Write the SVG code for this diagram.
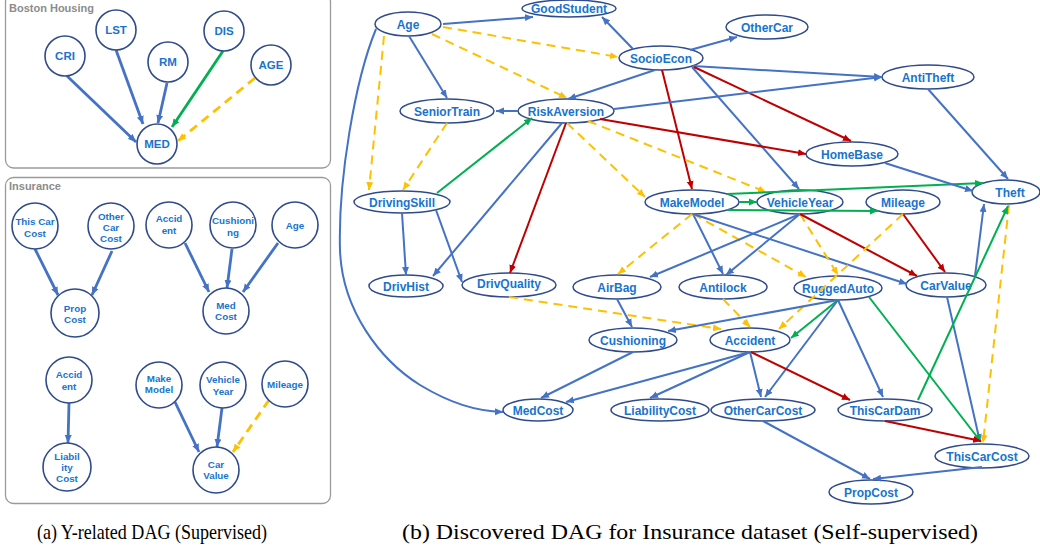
<svg xmlns="http://www.w3.org/2000/svg" width="1040" height="550" viewBox="0 0 1040 550">
<style>
.box{fill:#fff;stroke:#9a9a9a;stroke-width:1.3}
.ttl{font-family:"Liberation Sans",Arial,sans-serif;font-weight:bold;font-size:11px;fill:#8c8c8c}
.c{fill:#fff;stroke:#2F4B8C;stroke-width:1.6}
.n{fill:#fff;stroke:#2F4B8C;stroke-width:1.5}
.t{font-family:"Liberation Sans",Arial,sans-serif;font-weight:bold;font-size:12px;fill:#1874CD;text-anchor:middle}
.ts{font-family:"Liberation Sans",Arial,sans-serif;font-weight:bold;font-size:9.8px;fill:#1874CD;text-anchor:middle}
.tb{font-family:"Liberation Sans",Arial,sans-serif;font-weight:bold;font-size:11.5px;fill:#1874CD;text-anchor:middle}
.e{fill:none;stroke-width:2}
.L{stroke-width:2.8}
.b{stroke:#4472C4;marker-end:url(#ab)}
.g{stroke:#00B050;marker-end:url(#ag)}
.o{stroke:#FFC000;stroke-dasharray:9 6;marker-end:url(#ao)}
.r{stroke:#C00000;marker-end:url(#ar)}
.cap{font-family:"Liberation Serif","Times New Roman",serif;font-size:21px;fill:#000}
</style>
<defs>
<marker id="ab" markerUnits="userSpaceOnUse" markerWidth="9" markerHeight="8" refX="8" refY="4" orient="auto"><path d="M0,0.5 L8,4 L0,7.5 z" fill="#4472C4"/></marker>
<marker id="ag" markerUnits="userSpaceOnUse" markerWidth="9" markerHeight="8" refX="8" refY="4" orient="auto"><path d="M0,0.5 L8,4 L0,7.5 z" fill="#00B050"/></marker>
<marker id="ao" markerUnits="userSpaceOnUse" markerWidth="9" markerHeight="8" refX="8" refY="4" orient="auto"><path d="M0,0.5 L8,4 L0,7.5 z" fill="#FFC000"/></marker>
<marker id="ar" markerUnits="userSpaceOnUse" markerWidth="9" markerHeight="8" refX="8" refY="4" orient="auto"><path d="M0,0.5 L8,4 L0,7.5 z" fill="#C00000"/></marker>
</defs>
<rect width="1040" height="550" fill="#fff"/>

<!-- Panel a: boxes -->
<rect class="box" x="5.5" y="-6" width="325" height="174" rx="8"/>
<text class="ttl" x="9" y="12">Boston Housing</text>
<rect class="box" x="5.5" y="177.5" width="325" height="326" rx="8"/>
<text class="ttl" x="9" y="190">Insurance</text>

<!-- Panel a connectors -->
<g id="connectors-a">
<line class="e L b" x1="67" y1="76" x2="136" y2="142"/>
<line class="e L b" x1="116" y1="50" x2="143" y2="124"/>
<line class="e L b" x1="167" y1="83" x2="158" y2="123"/>
<line class="e L g" x1="223" y1="51" x2="172" y2="127"/>
<line class="e L o" x1="255" y1="78" x2="178" y2="141"/>
<line class="e L b" x1="35" y1="249" x2="58" y2="295"/>
<line class="e L b" x1="112" y1="251" x2="92" y2="295"/>
<line class="e L b" x1="185" y1="243" x2="209" y2="292"/>
<line class="e L b" x1="232" y1="249" x2="227" y2="288"/>
<line class="e L b" x1="278" y1="243" x2="243" y2="292"/>
<line class="e L b" x1="69" y1="403" x2="68" y2="443"/>
<line class="e L b" x1="175" y1="402" x2="199" y2="452"/>
<line class="e L b" x1="222" y1="408" x2="217" y2="447"/>
<line class="e L o" x1="269" y1="400" x2="233" y2="452"/>
</g>

<!-- Panel a nodes -->
<g id="b-CRI"><circle class="c" cx="65" cy="56" r="20"/><text class="tb" x="65" y="60">CRI</text></g>
<g id="b-LST"><circle class="c" cx="116" cy="30" r="20"/><text class="tb" x="116" y="34">LST</text></g>
<g id="b-RM"><circle class="c" cx="168" cy="62" r="20"/><text class="tb" x="168" y="66">RM</text></g>
<g id="b-DIS"><circle class="c" cx="224" cy="31" r="20"/><text class="tb" x="224" y="35">DIS</text></g>
<g id="b-AGE"><circle class="c" cx="271" cy="65" r="20"/><text class="tb" x="271" y="69">AGE</text></g>
<g id="b-MED"><circle class="c" cx="157" cy="144" r="20"/><text class="tb" x="157" y="148">MED</text></g>

<g id="i-ThisCarCost"><circle class="c" cx="35" cy="226" r="23"/><text class="ts" x="35" y="225">This Car</text><text class="ts" x="35" y="237">Cost</text></g>
<g id="i-OtherCarCost"><circle class="c" cx="111" cy="226" r="23"/><text class="ts" x="111" y="220">Other</text><text class="ts" x="111" y="231">Car</text><text class="ts" x="111" y="242">Cost</text></g>
<g id="i-PropCost"><circle class="c" cx="75" cy="313" r="24"/><text class="ts" x="75" y="312">Prop</text><text class="ts" x="75" y="323">Cost</text></g>
<g id="i-Accident1"><circle class="c" cx="169" cy="225" r="23"/><text class="ts" x="169" y="222">Accid</text><text class="ts" x="169" y="234">ent</text></g>
<g id="i-Cushioning"><circle class="c" cx="233" cy="225" r="23"/><text class="ts" x="233" y="224">Cushioni</text><text class="ts" x="233" y="236">ng</text></g>
<g id="i-Age"><circle class="c" cx="295" cy="225" r="23"/><text class="ts" x="295" y="229">Age</text></g>
<g id="i-MedCost"><circle class="c" cx="226" cy="311" r="23"/><text class="ts" x="226" y="309">Med</text><text class="ts" x="226" y="320">Cost</text></g>
<g id="i-Accident2"><circle class="c" cx="69" cy="380" r="23"/><text class="ts" x="69" y="378">Accid</text><text class="ts" x="69" y="390">ent</text></g>
<g id="i-LiabilityCost"><circle class="c" cx="67" cy="467" r="24"/><text class="ts" x="67" y="460">Liabil</text><text class="ts" x="67" y="471">ity</text><text class="ts" x="67" y="482">Cost</text></g>
<g id="i-MakeModel"><circle class="c" cx="159" cy="385" r="23"/><text class="ts" x="159" y="382">Make</text><text class="ts" x="159" y="393">Model</text></g>
<g id="i-VehicleYear"><circle class="c" cx="223" cy="385" r="23"/><text class="ts" x="223" y="383">Vehicle</text><text class="ts" x="223" y="395">Year</text></g>
<g id="i-Mileage"><circle class="c" cx="285" cy="384" r="23"/><text class="ts" x="285" y="388">Mileage</text></g>
<g id="i-CarValue"><circle class="c" cx="216" cy="470" r="23"/><text class="ts" x="216" y="468">Car</text><text class="ts" x="216" y="479">Value</text></g>

<!-- Panel b nodes -->
<g id="Age"><ellipse class="n" cx="408" cy="24" rx="33" ry="12"/><text class="t" x="408" y="28.5">Age</text></g>
<g id="GoodStudent"><ellipse class="n" cx="569" cy="8.5" rx="47" ry="8.5"/><text class="t" x="569" y="13">GoodStudent</text></g>
<g id="SocioEcon"><ellipse class="n" cx="661" cy="58" rx="42" ry="12"/><text class="t" x="661" y="62.5">SocioEcon</text></g>
<g id="OtherCar"><ellipse class="n" cx="767" cy="27" rx="41" ry="12"/><text class="t" x="767" y="31.5">OtherCar</text></g>
<g id="SeniorTrain"><ellipse class="n" cx="447" cy="111" rx="47" ry="12"/><text class="t" x="447" y="115.5">SeniorTrain</text></g>
<g id="RiskAversion"><ellipse class="n" cx="566" cy="111" rx="48" ry="12"/><text class="t" x="566" y="115.5">RiskAversion</text></g>
<g id="AntiTheft"><ellipse class="n" cx="928" cy="77" rx="46" ry="12"/><text class="t" x="928" y="81.5">AntiTheft</text></g>
<g id="HomeBase"><ellipse class="n" cx="852" cy="154" rx="46" ry="12"/><text class="t" x="852" y="158.5">HomeBase</text></g>
<g id="DrivingSkill"><ellipse class="n" cx="402" cy="202" rx="48" ry="11"/><text class="t" x="402" y="206.5">DrivingSkill</text></g>
<g id="MakeModel"><ellipse class="n" cx="692" cy="202" rx="47" ry="12"/><text class="t" x="692" y="206.5">MakeModel</text></g>
<g id="VehicleYear"><ellipse class="n" cx="800" cy="202" rx="43" ry="12"/><text class="t" x="800" y="206.5">VehicleYear</text></g>
<g id="Mileage"><ellipse class="n" cx="903" cy="202" rx="37" ry="12"/><text class="t" x="903" y="206.5">Mileage</text></g>
<g id="Theft"><ellipse class="n" cx="1006" cy="192" rx="34" ry="12"/><text class="t" x="1010" y="196.5">Theft</text></g>
<g id="DrivHist"><ellipse class="n" cx="406" cy="286" rx="37" ry="11"/><text class="t" x="406" y="290.5">DrivHist</text></g>
<g id="DrivQuality"><ellipse class="n" cx="509" cy="285" rx="47" ry="12"/><text class="t" x="509" y="288">DrivQuality</text></g>
<g id="AirBag"><ellipse class="n" cx="617" cy="287" rx="44" ry="12"/><text class="t" x="617" y="291.5">AirBag</text></g>
<g id="Antilock"><ellipse class="n" cx="723" cy="287" rx="44" ry="12"/><text class="t" x="723" y="291.5">Antilock</text></g>
<g id="RuggedAuto"><ellipse class="n" cx="838" cy="288" rx="44" ry="12"/><text class="t" x="838" y="292.5">RuggedAuto</text></g>
<g id="CarValue"><ellipse class="n" cx="946" cy="285" rx="40" ry="12"/><text class="t" x="946" y="289.5">CarValue</text></g>
<g id="Cushioning"><ellipse class="n" cx="633" cy="340" rx="44" ry="12"/><text class="t" x="633" y="344.5">Cushioning</text></g>
<g id="Accident"><ellipse class="n" cx="750" cy="340" rx="40" ry="12"/><text class="t" x="750" y="344.5">Accident</text></g>
<g id="MedCost"><ellipse class="n" cx="538" cy="410" rx="35" ry="11"/><text class="t" x="538" y="414.5">MedCost</text></g>
<g id="LiabilityCost"><ellipse class="n" cx="660" cy="410" rx="49" ry="11"/><text class="t" x="660" y="414.5">LiabilityCost</text></g>
<g id="OtherCarCost"><ellipse class="n" cx="763" cy="410" rx="52" ry="11"/><text class="t" x="763" y="414.5">OtherCarCost</text></g>
<g id="ThisCarDam"><ellipse class="n" cx="885" cy="410" rx="47" ry="11"/><text class="t" x="885" y="414.5">ThisCarDam</text></g>
<g id="ThisCarCost"><ellipse class="n" cx="982" cy="456" rx="47" ry="12"/><text class="t" x="982" y="460.5">ThisCarCost</text></g>
<g id="PropCost"><ellipse class="n" cx="871" cy="492" rx="42" ry="12"/><text class="t" x="871" y="496.5">PropCost</text></g>

<!-- Panel b connectors -->
<g id="connectors">
<line class="e b" x1="443" y1="24" x2="533" y2="17"/>
<line class="e o" x1="443" y1="27" x2="618" y2="57"/>
<line class="e o" x1="432" y1="34" x2="567" y2="98"/>
<line class="e b" x1="409" y1="36" x2="447" y2="98"/>
<line class="e o" x1="384" y1="36" x2="369" y2="190"/>
<path class="e b" d="M376,29 C355,80 338,180 340,250 C342,310 380,360 420,385 C450,403 475,411 503,412"/>
<line class="e b" x1="633" y1="49" x2="602" y2="17"/>
<line class="e b" x1="690" y1="50" x2="737" y2="37"/>
<line class="e b" x1="655" y1="70" x2="568" y2="99"/>
<line class="e b" x1="693" y1="66" x2="882" y2="77"/>
<line class="e r" x1="662" y1="70" x2="692" y2="189"/>
<line class="e b" x1="692" y1="67" x2="799" y2="189"/>
<line class="e r" x1="694" y1="67" x2="851" y2="141"/>
<line class="e b" x1="518" y1="111" x2="496" y2="111"/>
<line class="e b" x1="614" y1="109" x2="882" y2="77"/>
<line class="e r" x1="600" y1="119" x2="806" y2="154"/>
<line class="e o" x1="588" y1="121" x2="766" y2="192"/>
<line class="e o" x1="567" y1="123" x2="645" y2="197"/>
<line class="e r" x1="566" y1="123" x2="510" y2="273"/>
<line class="e b" x1="562" y1="123" x2="433" y2="276"/>
<line class="e g" x1="437" y1="193" x2="532" y2="118"/>
<line class="e o" x1="447" y1="123" x2="403" y2="190"/>
<line class="e b" x1="402" y1="213" x2="406" y2="275"/>
<line class="e b" x1="436" y1="210" x2="462" y2="282"/>
<line class="e o" x1="509" y1="297" x2="721" y2="329"/>
<line class="e b" x1="617" y1="299" x2="632" y2="327"/>
<line class="e g" x1="739" y1="202" x2="757" y2="202"/>
<line class="e g" x1="727" y1="194" x2="983" y2="183"/>
<line class="e g" x1="727" y1="210" x2="878" y2="211"/>
<line class="e o" x1="692" y1="214" x2="618" y2="274"/>
<line class="e b" x1="693" y1="214" x2="723" y2="274"/>
<line class="e o" x1="693" y1="214" x2="806" y2="277"/>
<line class="e b" x1="693" y1="214" x2="907" y2="284"/>
<line class="e b" x1="800" y1="214" x2="650" y2="277"/>
<line class="e b" x1="800" y1="214" x2="726" y2="275"/>
<line class="e o" x1="800" y1="214" x2="838" y2="275"/>
<line class="e r" x1="800" y1="214" x2="917" y2="276"/>
<line class="e r" x1="903" y1="214" x2="945" y2="272"/>
<line class="e o" x1="903" y1="214" x2="779" y2="329"/>
<line class="e b" x1="885" y1="163" x2="973" y2="191"/>
<line class="e b" x1="928" y1="89" x2="1008" y2="179"/>
<line class="e b" x1="975" y1="276" x2="984" y2="204"/>
<line class="e b" x1="947" y1="297" x2="980" y2="442"/>
<line class="e o" x1="1009" y1="205" x2="983" y2="443"/>
<line class="e g" x1="918" y1="400" x2="1008" y2="206"/>
<line class="e b" x1="838" y1="300" x2="668" y2="331"/>
<line class="e g" x1="838" y1="300" x2="791" y2="338"/>
<line class="e b" x1="838" y1="300" x2="765" y2="397"/>
<line class="e b" x1="838" y1="300" x2="883" y2="397"/>
<line class="e g" x1="869" y1="297" x2="981" y2="442"/>
<line class="e b" x1="750" y1="352" x2="566" y2="402"/>
<line class="e b" x1="750" y1="352" x2="650" y2="398"/>
<line class="e b" x1="750" y1="352" x2="761" y2="397"/>
<line class="e r" x1="751" y1="352" x2="850" y2="400"/>
<line class="e o" x1="723" y1="299" x2="750" y2="327"/>
<line class="e b" x1="633" y1="352" x2="541" y2="398"/>
<line class="e r" x1="885" y1="421" x2="981" y2="441"/>
<line class="e b" x1="763" y1="421" x2="870" y2="479"/>
<line class="e b" x1="982" y1="467" x2="873" y2="479"/>
</g>

<text class="cap" x="37" y="539" textLength="230" lengthAdjust="spacingAndGlyphs">(a) Y-related DAG (Supervised)</text>
<text class="cap" x="402" y="539" textLength="576" lengthAdjust="spacingAndGlyphs">(b) Discovered DAG for Insurance dataset (Self-supervised)</text>
</svg>
